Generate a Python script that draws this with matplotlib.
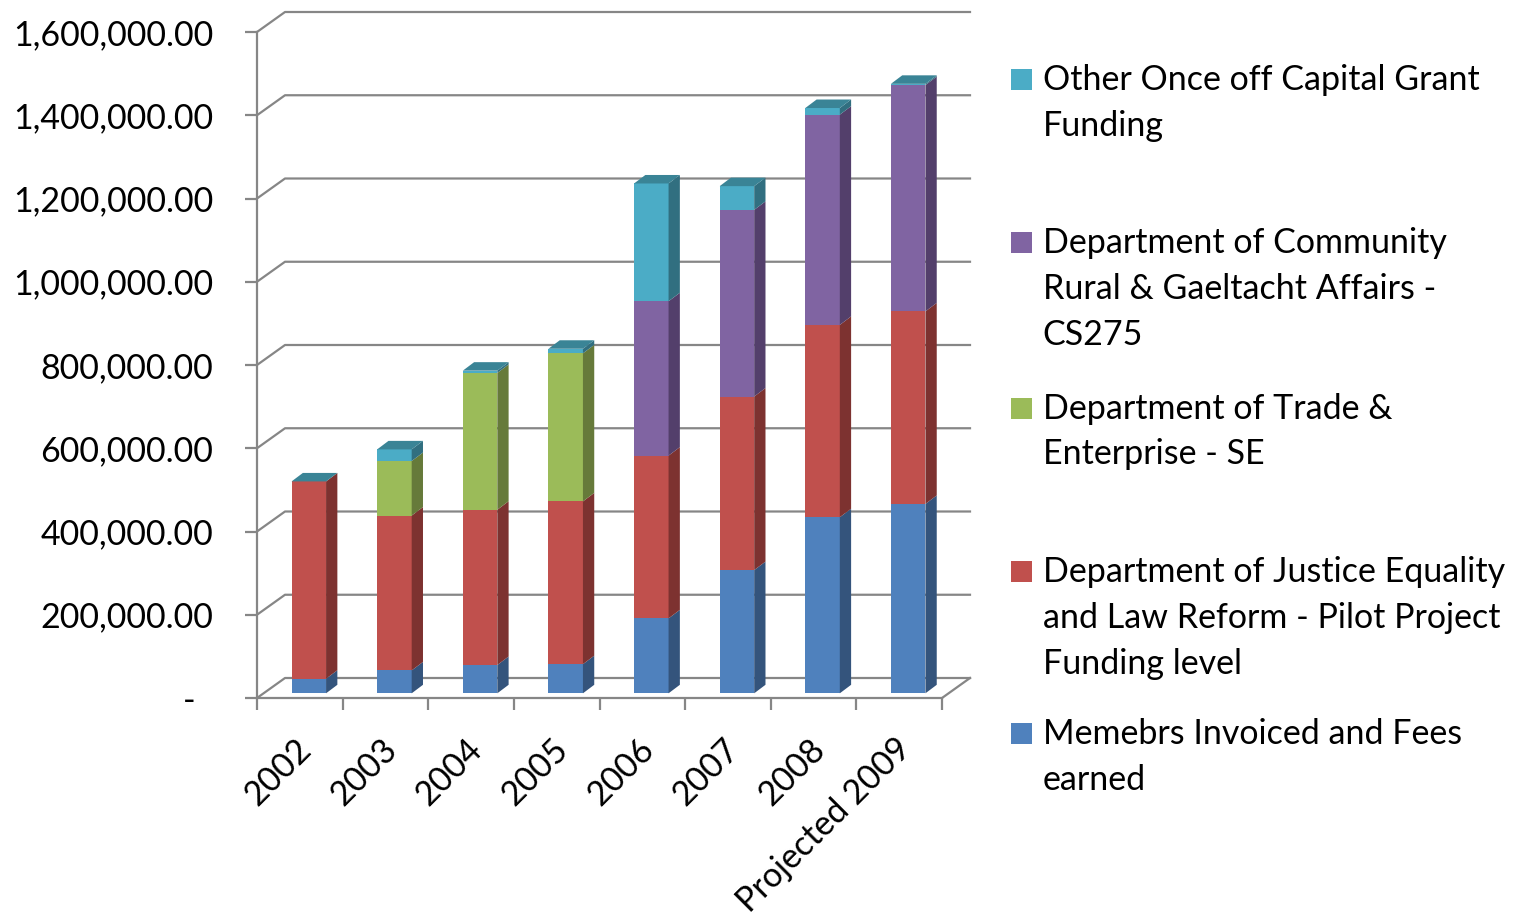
import matplotlib
matplotlib.use("Agg")
import matplotlib.pyplot as plt
from matplotlib.patches import Polygon, Rectangle
from matplotlib.ticker import FuncFormatter
import numpy as np

plt.rcParams['font.family'] = ['Lato', 'DejaVu Sans']

# ---- data ----
years = ["2002", "2003", "2004", "2005", "2006", "2007", "2008", "Projected 2009"]
members = [35000, 55000, 68000, 70000, 180000, 296000, 423000, 455000]
justice = [474000, 372000, 373000, 391000, 391000, 417000, 462000, 462500]
trade = [0, 131000, 328600, 355700, 0, 0, 0, 0]
community = [0, 0, 0, 0, 370800, 448400, 505100, 543700]
other = [0, 28000, 5500, 11000, 283000, 57000, 16000, 3000]

series_labels = [
    "Memebrs Invoiced and Fees\nearned",
    "Department of Justice Equality\nand Law Reform - Pilot Project\nFunding level",
    "Department of Trade &\nEnterprise - SE",
    "Department of Community\nRural & Gaeltacht Affairs -\nCS275",
    "Other Once off Capital Grant\nFunding",
]
yticks = [0, 200000, 400000, 600000, 800000, 1000000, 1200000, 1400000, 1600000]

# ---- styles ----
front_cols = ["#4F81BD", "#C0504D", "#9BBB59", "#8064A2", "#4BACC6"]
side_cols = ["#34547C", "#7D3230", "#667A3A", "#533F6B", "#316F80"]
top_col = "#3A8496"
grid_col = "#868686"
fs = 24.5

W, H = 1516, 918
fig = plt.figure(figsize=(W / 100, H / 100), dpi=100)
ax = fig.add_axes([257 / W, (H - 698) / H, 685 / W, 666 / H])
n = len(years)
ax.set_xlim(0, n)
ax.set_ylim(0, 1.6e6)

# data units per pixel, for the fake 3d depth
ux = n / 685
uy = 1.6e6 / 666

# back wall + floor
wall_dx, wall_dy = 28 * ux, 20 * uy
for v in yticks:
    ax.plot([0, wall_dx, n + wall_dx], [v, v + wall_dy, v + wall_dy],
            color=grid_col, lw=1.6, clip_on=False, zorder=1)
ax.plot([n, n + wall_dx], [0, wall_dy], color=grid_col, lw=1.6, clip_on=False, zorder=1)

# stacked bars with side and top faces
bar_w = 34.5 * ux
shift_x = 9 * ux
lift = 4.7 * uy
sdx, sdy = 11.3 * ux, 8.5 * uy
x = np.arange(n) + 0.5 + shift_x
bottom = np.zeros(n) + lift
for vals, fc, sc in zip([members, justice, trade, community, other], front_cols, side_cols):
    vals = np.array(vals, dtype=float)
    ax.bar(x, vals, width=bar_w, bottom=bottom, color=fc, linewidth=0, zorder=3)
    for xi, b, h in zip(x, bottom, vals):
        xr = xi + bar_w / 2
        ax.add_patch(Polygon([(xr, b), (xr + sdx, b + sdy), (xr + sdx, b + h + sdy), (xr, b + h)],
                             closed=True, facecolor=sc, linewidth=0, zorder=3, clip_on=False))
    bottom = bottom + vals
for xi, t in zip(x, bottom):
    xl, xr = xi - bar_w / 2, xi + bar_w / 2
    ax.add_patch(Polygon([(xl, t), (xr, t), (xr + sdx, t + sdy), (xl + sdx, t + sdy)],
                         closed=True, facecolor=top_col, linewidth=0, zorder=3, clip_on=False))

# axes
for s in ["top", "right"]:
    ax.spines[s].set_visible(False)
for s in ["left", "bottom"]:
    ax.spines[s].set_color(grid_col)
    ax.spines[s].set_linewidth(1.6)
ax.set_yticks(yticks)
ax.yaxis.set_major_formatter(FuncFormatter(lambda v, _: "-  " if v == 0 else f"{v:,.2f}"))
ax.tick_params(axis='y', direction='out', length=8.5, width=1.6, color=grid_col,
               labelsize=fs, pad=23)
ax.set_xticks(np.arange(n + 1))
ax.set_xticks(np.arange(n) + 0.5 - 5 * ux, years, minor=True)
ax.tick_params(axis='x', which='major', direction='out', length=8.5, width=1.6,
               color=grid_col, labelbottom=False)
ax.tick_params(axis='x', which='minor', length=0, labelsize=fs, pad=25)
for lab in ax.get_xticklabels(minor=True):
    lab.set_rotation(45)
    lab.set_ha('right')
    lab.set_va('top')
    lab.set_rotation_mode('anchor')

# legend (top entry = last series)
legend_baselines = [90, 253.3, 418.5, 582.3, 744]
line_step = 46
for base, label, col in zip(legend_baselines, series_labels[::-1], front_cols[::-1]):
    fig.patches.append(Rectangle((1011 / W, (H - base) / H), 21 / W, 21 / H,
                                 transform=fig.transFigure, facecolor=col, linewidth=0))
    for k, line in enumerate(label.split("\n")):
        fig.text(1042.7 / W, (H - base - k * line_step) / H, line,
                 ha='left', va='baseline', fontsize=fs)

fig.savefig("out.png", dpi=100)
